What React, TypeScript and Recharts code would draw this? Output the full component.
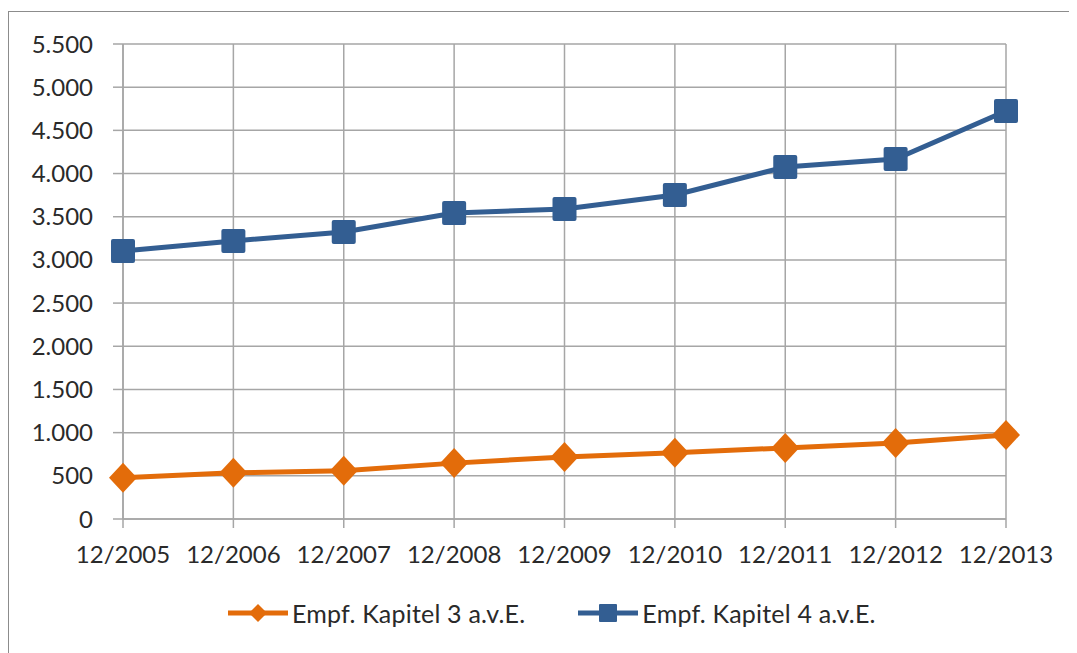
import React from 'react';
import { LineChart, Line, XAxis, YAxis, CartesianGrid, Legend } from 'recharts';

// Year-end dates on the category axis
const years = ['12/2005', '12/2006', '12/2007', '12/2008', '12/2009', '12/2010', '12/2011', '12/2012', '12/2013'];

// Recipients per chapter
const kapitel3 = [477, 535, 558, 647, 719, 766, 823, 881, 973];
const kapitel4 = [3104, 3220, 3324, 3544, 3590, 3752, 4076, 4169, 4724];

const yTicks = [0, 500, 1000, 1500, 2000, 2500, 3000, 3500, 4000, 4500, 5000, 5500];
const seriesNames = ['Empf. Kapitel 3 a.v.E.', 'Empf. Kapitel 4 a.v.E.'];

const ORANGE = '#E36C0A';
const BLUE = '#335E92';
const GRID = '#A6A6A6';
const TEXT = '#2A2A2A';
const FONT = 'Lato, "Open Sans", sans-serif';

const data = years.map((year, i) => ({ year, k3: kapitel3[i], k4: kapitel4[i] }));

// German thousands separator: 5500 -> 5.500
const formatThousands = (v: number) => String(v).replace(/\B(?=(\d{3})+(?!\d))/g, '.');

const SquareDot = (props: any) => {
  const { cx, cy, index } = props;
  if (cx == null || cy == null) return null;
  return <rect key={`sq-${index}`} x={cx - 12} y={cy - 12} width={24} height={24} rx={2} fill={BLUE} />;
};

const DiamondDot = (props: any) => {
  const { cx, cy, index } = props;
  if (cx == null || cy == null) return null;
  return (
    <polygon
      key={`di-${index}`}
      points={`${cx},${cy - 15} ${cx + 14},${cy} ${cx},${cy + 15} ${cx - 14},${cy}`}
      fill={ORANGE}
    />
  );
};

const renderLegend = () => (
  <div style={{ display: 'flex', alignItems: 'center', fontFamily: FONT, fontSize: 25, color: TEXT, whiteSpace: 'nowrap' }}>
    {seriesNames.map((name, i) => (
      <div key={name} style={{ display: 'flex', alignItems: 'center', marginRight: i === 0 ? 53 : 0 }}>
        <svg width={60} height={30}>
          <line x1={0} y1={15} x2={60} y2={15} stroke={i === 0 ? ORANGE : BLUE} strokeWidth={5} strokeLinecap="round" />
          {i === 0 ? (
            <polygon points="30,6 39,15 30,24 21,15" fill={ORANGE} />
          ) : (
            <rect x={21} y={6} width={18} height={18} rx={1} fill={BLUE} />
          )}
        </svg>
        <span style={{ marginLeft: 4, letterSpacing: 0.2 }}>{name}</span>
      </div>
    ))}
  </div>
);

export default function App() {
  return (
    <div
      style={{
        position: 'relative',
        width: 1069,
        height: 642,
        marginTop: 3,
        borderTop: '1px solid #8C8C8C',
        borderLeft: '1px solid #8C8C8C',
        boxSizing: 'border-box',
        overflow: 'hidden',
        background: '#fff',
      }}
    >
      <LineChart width={1068} height={641} data={data} margin={{ top: 32, right: 71, left: 14, bottom: 0 }}>
        <CartesianGrid stroke={GRID} strokeWidth={1.5} />
        <XAxis
          dataKey="year"
          stroke={GRID}
          strokeWidth={1.5}
          tickSize={9}
          tickMargin={18}
          height={104}
          interval={0}
          tick={{ fill: TEXT, fontSize: 24, fontFamily: FONT }}
        />
        <YAxis
          domain={[0, 5500]}
          ticks={yTicks}
          interval={0}
          width={100}
          stroke={GRID}
          strokeWidth={1.5}
          tickSize={10}
          tickMargin={20}
          tickFormatter={formatThousands}
          tick={{ fill: TEXT, fontSize: 24, fontFamily: FONT }}
        />
        <Legend
          content={renderLegend}
          wrapperStyle={{ position: 'absolute', left: 219, top: 586, width: 'auto', height: 30 }}
        />
        <Line
          type="linear"
          dataKey="k3"
          name={seriesNames[0]}
          stroke={ORANGE}
          strokeWidth={5}
          dot={DiamondDot}
          activeDot={false}
          isAnimationActive={false}
        />
        <Line
          type="linear"
          dataKey="k4"
          name={seriesNames[1]}
          stroke={BLUE}
          strokeWidth={5}
          dot={SquareDot}
          activeDot={false}
          isAnimationActive={false}
        />
      </LineChart>
    </div>
  );
}
